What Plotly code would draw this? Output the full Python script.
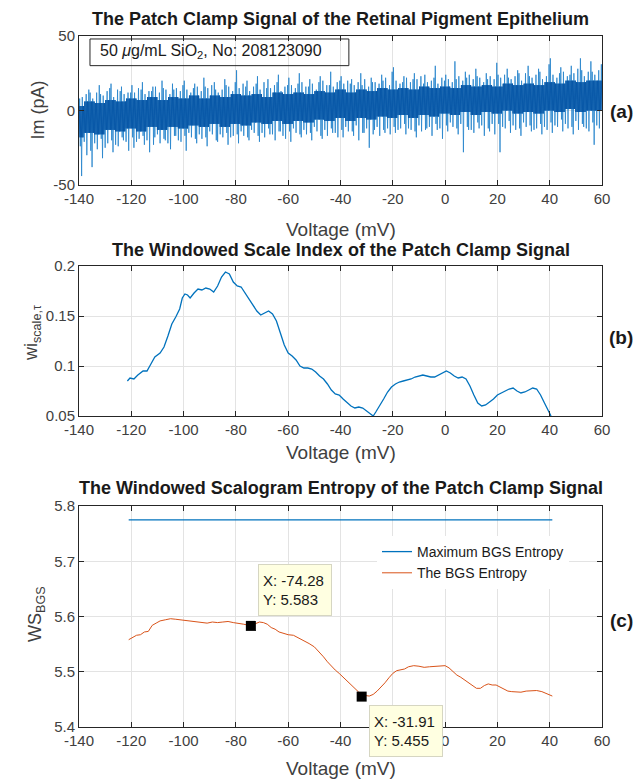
import plotly.graph_objects as go

FONT = "Liberation Sans, Arial, Helvetica, sans-serif"
BLUE = "#0072BD"
ORANGE = "#D95319"
SPIKE = "#2383cc"
CORE = "#0756a6"
AXC = "#262626"
TXT = "#404040"
GRID = "#e3e3e3"

# ---------------- data ----------------
x_tickvals = [-140, -120, -100, -80, -60, -40, -20, 0, 20, 40, 60]
x_ticktext = ["-140", "-120", "-100", "-80", "-60", "-40", "-20", "0", "20", "40", "60"]
ya_tickvals = [-50, 0, 50]
ya_ticktext = ["-50", "0", "50"]
yb_tickvals = [0.05, 0.1, 0.15, 0.2]
yb_ticktext = ["0.05", "0.1", "0.15", "0.2"]
yc_tickvals = [5.4, 5.5, 5.6, 5.7, 5.8]
yc_ticktext = ["5.4", "5.5", "5.6", "5.7", "5.8"]

# panel (a): noisy patch-clamp current, read as envelopes from the picture
sig_core_v = list(range(-140, 60, 4))
sig_core_hi = [3, 6, 5, 7, 6, 8, 7, 9, 7, 9,
               8, 10, 8, 10, 9, 11, 10, 11, 9, 12,
               11, 12, 11, 13, 12, 14, 12, 14, 13, 15,
               14, 15, 14, 16, 15, 16, 15, 17, 16, 17,
               16, 18, 17, 18, 17, 19, 18, 20, 19, 20]
sig_core_lo = [-18, -15, -16, -13, -14, -12, -14, -11, -13, -11,
               -12, -10, -11, -9, -11, -9, -10, -8, -9, -7,
               -9, -7, -8, -6, -7, -5, -7, -5, -6, -4,
               -5, -3, -5, -3, -4, -2, -3, -1, -3, -1,
               -2, 0, -2, -1, -2, 0, -1, 1, -1, 0]
sig_spike_v = list(range(-140, 60, 2))
sig_spike_up = [
    8, 14, 12, 17, 11, 15, 18, 13, 16, 12,
    17, 14, 19, 13, 16, 20, 15, 18, 14, 17,
    20, 15, 18, 22, 16, 19, 14, 21, 17, 19,
    27, 16, 20, 18, 23, 15, 21, 19, 24, 17,
    22, 18, 25, 16, 21, 19, 23, 17, 26, 20,
    23, 18, 21, 25, 17, 22, 19, 24, 20, 26,
    29, 19, 23, 21, 25, 18, 24, 22, 30, 20,
    24, 33, 21, 26, 22, 28, 23, 25, 21, 32,
    24, 28, 22, 27, 25, 30, 23, 28, 26, 31,
    35, 25, 29, 24, 30, 35, 27, 33, 26, 31]
sig_spike_dn = [
    -44, -30, -38, -26, -32, -22, -28, -24, -20, -27,
    -25, -19, -23, -28, -18, -22, -20, -26, -17, -21,
    -27, -18, -22, -19, -24, -16, -21, -18, -23, -17,
    -22, -17, -20, -15, -21, -18, -16, -20, -14, -19,
    -21, -15, -18, -16, -20, -14, -19, -17, -15, -18,
    -18, -14, -17, -20, -15, -25, -13, -17, -15, -16,
    -15, -12, -16, -13, -18, -14, -12, -17, -13, -19,
    -14, -11, -16, -28, -13, -15, -12, -17, -14, -16,
    -28, -12, -15, -13, -17, -11, -14, -12, -16, -13,
    -15, -11, -14, -12, -16, -13, -11, -14, -23, -12]
sig_mid_up = [
    9, 11, 8, 12, 10, 13, 9, 14, 11, 12,
    12, 15, 11, 13, 16, 12, 14, 11, 15, 13,
    14, 12, 16, 13, 15, 17, 12, 14, 16, 13,
    15, 18, 13, 16, 14, 19, 15, 17, 13, 16,
    17, 15, 19, 16, 18, 14, 20, 17, 16, 19,
    18, 20, 17, 19, 21, 16, 19, 18, 22, 17,
    20, 18, 22, 19, 21, 23, 19, 20, 18, 22,
    21, 19, 23, 20, 24, 21, 22, 19, 23, 21,
    22, 24, 21, 23, 20, 25, 22, 24, 21, 23,
    24, 22, 26, 23, 25, 28, 23, 26, 24, 27]
sig_mid_dn = [
    -24, -21, -27, -22, -19, -25, -20, -23, -18, -21,
    -18, -21, -17, -20, -23, -16, -19, -22, -17, -20,
    -17, -15, -19, -16, -18, -14, -20, -16, -15, -18,
    -16, -14, -18, -13, -17, -15, -12, -16, -14, -17,
    -14, -12, -16, -13, -15, -11, -17, -13, -12, -15,
    -13, -11, -14, -10, -15, -12, -16, -11, -13, -12,
    -11, -13, -9, -12, -14, -10, -13, -11, -9, -12,
    -10, -8, -12, -9, -11, -13, -8, -10, -12, -9,
    -9, -11, -7, -10, -12, -8, -10, -13, -9, -11,
    -8, -10, -6, -9, -11, -7, -9, -12, -8, -10]

# panel (b): windowed scale index
wi_v = [-121.5, -120.5, -119, -117.5, -115.5, -114, -112.5, -111, -109, -107.5,
        -106, -104.5, -103, -101.5, -100.5, -99.5, -98.5, -97.5, -96, -94.5,
        -93, -91.5, -90, -88.5, -87, -85.5, -84, -82.5, -81, -79.5,
        -78, -76.5, -75, -73.5, -72, -70.5, -69, -67.5, -66, -64.5,
        -63, -61.5, -60, -58.5, -57, -55.5, -54, -52.5, -51, -49.5,
        -48, -46.5, -45, -43.5, -42, -40.5, -39, -37.5, -36, -34.5,
        -33, -31.5, -30, -28.5, -27.5, -26.5, -25, -23.5, -22, -20.5,
        -19, -17.5, -16, -14.5, -13, -11.5, -10, -8.5, -7, -5.5,
        -4, -2.5, -1, 0.5, 2, 3.5, 5, 6.5, 8, 9.5,
        11, 12.5, 14, 15.5, 17, 18.5, 20, 21.5, 23, 24.5,
        26, 27.5, 29, 30.5, 32, 33.5, 35, 36.5, 38, 39.5, 40.5]
wi_val = [0.085, 0.088, 0.087, 0.091, 0.095, 0.095, 0.102, 0.109, 0.113, 0.119,
          0.130, 0.142, 0.149, 0.157, 0.168, 0.172, 0.171, 0.168, 0.173, 0.177,
          0.176, 0.178, 0.177, 0.174, 0.180, 0.189, 0.194, 0.192, 0.184, 0.180,
          0.179, 0.173, 0.167, 0.161, 0.155, 0.151, 0.153, 0.155, 0.152, 0.145,
          0.133, 0.121, 0.113, 0.110, 0.106, 0.100, 0.098, 0.098, 0.097, 0.094,
          0.090, 0.087, 0.082, 0.076, 0.072, 0.071, 0.067, 0.063, 0.060, 0.058,
          0.059, 0.058, 0.055, 0.052, 0.050, 0.054, 0.060, 0.067, 0.074, 0.079,
          0.082, 0.084, 0.085, 0.086, 0.087, 0.089, 0.090, 0.091, 0.090, 0.089,
          0.089, 0.091, 0.093, 0.095, 0.093, 0.090, 0.088, 0.089, 0.087, 0.080,
          0.071, 0.063, 0.060, 0.061, 0.064, 0.067, 0.071, 0.073, 0.075, 0.077,
          0.078, 0.075, 0.073, 0.074, 0.076, 0.078, 0.077, 0.071, 0.063, 0.055, 0.050]

# panel (c): windowed scalogram entropy
max_bgs_v = [-121, 41]
max_bgs_val = [5.775, 5.775]
bgs_v = [-121, -119.5, -118, -116.5, -115, -113.5, -112, -110.5, -109, -107,
         -105, -103, -101, -99, -97, -95, -93, -91, -89, -87,
         -85, -83, -81, -79, -77, -75, -74.28, -73, -71, -69.5,
         -68, -66.5, -65, -63.5, -62, -60, -58, -56, -54, -52,
         -50, -48, -46.5, -45, -43.5, -42, -40.5, -39, -37.5, -36,
         -34.5, -33, -31.91, -30.5, -29, -27.5, -26, -24.5, -23, -21.5,
         -20, -18.5, -17, -15.5, -14, -12, -10, -8, -6, -4,
         -2, 0, 1.5, 3, 4.5, 6, 7.5, 9, 10.5, 12,
         13.5, 15, 16.5, 18, 19.5, 21, 22.5, 24, 25.5, 27,
         29, 31, 33, 35, 37, 39, 41]
bgs_val = [5.558, 5.562, 5.566, 5.567, 5.572, 5.573, 5.584, 5.588, 5.592, 5.594,
           5.596, 5.595, 5.594, 5.593, 5.591, 5.590, 5.589, 5.588, 5.590, 5.589,
           5.590, 5.591, 5.589, 5.588, 5.586, 5.584, 5.583, 5.586, 5.590, 5.589,
           5.586, 5.580, 5.577, 5.572, 5.570, 5.567, 5.566, 5.561, 5.557, 5.551,
           5.545, 5.535, 5.527, 5.518, 5.510, 5.503, 5.497, 5.490, 5.483, 5.477,
           5.470, 5.463, 5.455, 5.457, 5.456, 5.459, 5.465, 5.472, 5.480, 5.489,
           5.497, 5.502, 5.503, 5.505, 5.509, 5.511, 5.510, 5.508, 5.509, 5.510,
           5.510, 5.511, 5.507, 5.500, 5.494, 5.490, 5.485, 5.480, 5.475, 5.470,
           5.470, 5.475, 5.478, 5.476, 5.476, 5.472, 5.468, 5.465, 5.464, 5.464,
           5.463, 5.465, 5.466, 5.466, 5.464, 5.460, 5.456]
tip_v = [-74.28, -31.91]
tip_val = [5.583, 5.455]
tip_text = [("-74.28", "5.583"), ("-31.91", "5.455")]

# ---------------- build the dense noisy traces from the envelopes ----------------
def core_at(v):
    k = min(range(len(sig_core_v)), key=lambda i: abs(sig_core_v[i] - v))
    return sig_core_lo[k], sig_core_hi[k]

offs = (0.0, 0.25, 0.5, 0.75, 1.0, 1.25, 1.5, 1.75)
sx, sy = [], []
cx, cy = [], []
for n, (v, up, dn, mup, mdn) in enumerate(zip(sig_spike_v, sig_spike_up, sig_spike_dn,
                                                sig_mid_up, sig_mid_dn)):
    lo, hi = core_at(v + 1)
    if n % 2 == 0:
        seq = (lo, up, mdn, hi, dn, mup, lo, hi)
    else:
        seq = (mdn, hi, lo, mup, dn, hi, lo, up)
    for dx, val in zip(offs, seq):
        sx.append(v + dx)
        sy.append(val)
    for dx, val in zip(offs, (lo, hi, lo, hi, lo, hi, lo, hi)):
        cx.append(v + dx)
        cy.append(val)
sx.append(60); sy.append(sig_core_lo[-1])
cx.append(60); cy.append(sig_core_lo[-1])

fig = go.Figure()
fig.add_trace(go.Scatter(x=sx, y=sy, mode="lines", line=dict(color=SPIKE, width=0.8),
                         xaxis="x", yaxis="y", showlegend=False, hoverinfo="skip"))
fig.add_trace(go.Scatter(x=cx, y=cy, mode="lines", line=dict(color=CORE, width=0.9),
                         xaxis="x", yaxis="y", showlegend=False, hoverinfo="skip"))
fig.add_trace(go.Scatter(x=wi_v, y=wi_val, mode="lines", line=dict(color=BLUE, width=1.3),
                         xaxis="x2", yaxis="y2", showlegend=False))
fig.add_trace(go.Scatter(x=max_bgs_v, y=max_bgs_val, mode="lines", line=dict(color=BLUE, width=1.3),
                         xaxis="x3", yaxis="y3", name="Maximum BGS Entropy"))
fig.add_trace(go.Scatter(x=bgs_v, y=bgs_val, mode="lines", line=dict(color=ORANGE, width=1),
                         xaxis="x3", yaxis="y3", name="The BGS Entropy"))
fig.add_trace(go.Scatter(x=tip_v, y=tip_val, mode="markers",
                         marker=dict(symbol="square", size=10, color="black"),
                         xaxis="x3", yaxis="y3", showlegend=False))

def xax(anchor):
    return dict(range=[-140, 60], tickvals=x_tickvals, ticktext=x_ticktext, anchor=anchor,
                showgrid=True, gridcolor=GRID, gridwidth=1, zeroline=False,
                showline=True, linecolor=AXC, linewidth=1, mirror="ticks",
                ticks="inside", ticklen=5, tickcolor=AXC,
                tickfont=dict(family=FONT, size=15, color=TXT))

def yax(anchor, rng, tv, tt, dom):
    return dict(range=rng, tickvals=tv, ticktext=tt, anchor=anchor, domain=dom,
                showgrid=True, gridcolor=GRID, gridwidth=1, zeroline=False,
                showline=True, linecolor=AXC, linewidth=1, mirror="ticks",
                ticks="inside", ticklen=5, tickcolor=AXC,
                tickfont=dict(family=FONT, size=15, color=TXT))

PT = 36
PB = 727
PH = PB - PT
def py(pix):
    return (PB - pix) / PH
PL = 79
PR = 602
PW = PR - PL
def px(pix):
    return (pix - PL) / PW

annos = []
def text(t, x, y, size, bold=False, angle=0, color="#1a1a1a", xanchor="center"):
    annos.append(dict(text=("<b>%s</b>" % t) if bold else t, x=x, y=y, xref="paper", yref="paper",
                      showarrow=False, textangle=angle, xanchor=xanchor, yanchor="middle",
                      font=dict(family=FONT, size=size, color=color)))

text("The Patch Clamp Signal of the Retinal Pigment Epithelium", 0.5, py(19), 18, bold=True)
text("The Windowed Scale Index of the Patch Clamp Signal", 0.5, py(250), 18, bold=True)
text("The Windowed Scalogram Entropy of the Patch Clamp Signal", 0.5, py(488), 18, bold=True)
for yy in (229, 452, 768):
    text("Voltage (mV)", 0.5, py(yy), 19, color=TXT)
text("Im (pA)", px(38), py(110.5), 18, angle=-90, color=TXT)
text("wi<sub>scale,τ</sub>", px(33), py(333), 18, angle=-90, color=TXT)
text("WS<sub>BGS</sub>", px(36), py(614), 18, angle=-90, color=TXT)
text("(a)", px(621), py(111), 19, bold=True)
text("(b)", px(621), py(338), 19, bold=True)
text("(c)", px(621), py(620), 19, bold=True)

# text box in panel (a)
annos.append(dict(text="50 <i>μ</i>g/mL SiO<sub>2</sub>, No: 208123090", x=-132.9, y=39.5,
                  xref="x", yref="y", xanchor="left", yanchor="middle", showarrow=False,
                  font=dict(family=FONT, size=16, color="#1a1a1a")))

# data tips in panel (c)
tip_pos = [(-71.6, 5.695), (-29.2, 5.440)]
for (tx, ty), (sxv, syv) in zip(tip_pos, tip_text):
    annos.append(dict(text="X: %s<br>Y: %s" % (sxv, syv), x=tx, y=ty, xref="x3", yref="y3",
                      xanchor="left", yanchor="top", showarrow=False, align="left",
                      width=64, height=42, borderpad=4, bgcolor="#FFFFE1",
                      bordercolor="#d6d6c2", borderwidth=1,
                      font=dict(family=FONT, size=15, color="#1a1a1a")))

shapes = [dict(type="rect", xref="x", yref="y", x0=-135.8, x1=-36.8, y0=30.1, y1=48.0,
               line=dict(color=AXC, width=1), fillcolor="rgba(0,0,0,0)", layer="above")]

fig.update_layout(
    width=644, height=780,
    margin=dict(l=PL, r=644 - PR, t=PT, b=780 - PB),
    paper_bgcolor="white", plot_bgcolor="white",
    xaxis=xax("y"), xaxis2=xax("y2"), xaxis3=xax("y3"),
    yaxis=yax("x", [-50, 50], ya_tickvals, ya_ticktext, [py(185), 1.0]),
    yaxis2=yax("x2", [0.05, 0.2], yb_tickvals, yb_ticktext, [py(416), py(266)]),
    yaxis3=yax("x3", [5.4, 5.8], yc_tickvals, yc_ticktext, [0.0, py(506)]),
    legend=dict(x=px(377), y=py(536), xanchor="left", yanchor="top", bgcolor="white",
                borderwidth=0, font=dict(family=FONT, size=14, color="#1a1a1a"),
                tracegroupgap=0),
    annotations=annos, shapes=shapes,
    font=dict(family=FONT),
)

fig.write_html("out.html")
